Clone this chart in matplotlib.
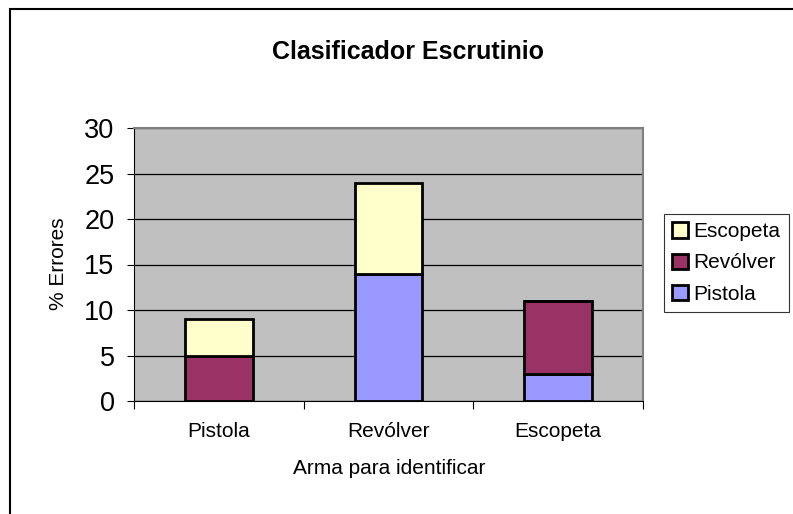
import matplotlib
matplotlib.use('Agg')
import matplotlib.pyplot as plt
import numpy as np
from matplotlib.patches import Rectangle

plt.rcParams['font.family'] = ['Liberation Sans', 'DejaVu Sans']

categories = ['Pistola', 'Revólver', 'Escopeta']
series = ['Pistola', 'Revólver', 'Escopeta']
pistola = [0, 14, 3]
revolver = [5, 0, 8]
escopeta = [4, 10, 0]
colors = ['#9999FF', '#993366', '#FFFFCC']

W, H = 793, 514
fig = plt.figure(figsize=(W / 100, H / 100), dpi=100)
# outer chart frame (cut off at right and bottom like the original)
fig.patches.append(Rectangle((10/W, -0.1), 2, 1 - 9/H + 0.1, transform=fig.transFigure,
                             fill=False, edgecolor='black', linewidth=1.5))

ax = fig.add_axes([134/W, 1 - 401/H, 509/W, 273/H])
ax.set_facecolor('#C0C0C0')

x = np.arange(len(categories))
bottom = np.zeros(len(categories))
for name, vals, c in zip(series, [pistola, revolver, escopeta], colors):
    ax.bar(x, vals, 0.40, bottom=bottom, color=c, edgecolor='black', linewidth=2,
           label=name, zorder=3)
    bottom += np.array(vals)

ax.set_xlim(-0.5, 2.5)
ax.set_ylim(0, 30)
ax.set_yticks(range(0, 31, 5))
ax.yaxis.grid(True, color='black', linewidth=0.9, zorder=1)
ax.set_axisbelow(True)

ax.set_xticks([-0.5, 0.5, 1.5, 2.5])
ax.set_xticklabels([])
ax.set_xticks(x, minor=True)
ax.set_xticklabels(categories, minor=True, fontsize=15)
ax.tick_params(axis='x', which='minor', length=0, pad=15)
ax.tick_params(axis='x', which='major', length=6, direction='out', color='black')
ax.tick_params(axis='y', length=5, direction='out', labelsize=19.5, pad=9)

for s in ['top', 'right']:
    ax.spines[s].set_color('#808080')
    ax.spines[s].set_linewidth(1.5)
ax.spines['left'].set_color('black')
ax.spines['bottom'].set_color('black')

fig.text(59/W, 1 - 264/H, '% Errores', rotation=90, ha='center', va='center', fontsize=15)
fig.text(389/W, 1 - 468/H, 'Arma para identificar', ha='center', va='center', fontsize=15)
fig.text(408/W, 1 - 52/H, 'Clasificador Escrutinio', ha='center', va='center',
         fontsize=18, fontweight='bold')

handles, labels = ax.get_legend_handles_labels()
leg = fig.legend(handles[::-1], labels[::-1], loc='upper left',
                 bbox_to_anchor=(664/W, 1 - 214/H), fontsize=15,
                 frameon=True, fancybox=False, edgecolor='black',
                 handlelength=0.75, handleheight=0.75, handletextpad=0.25,
                 borderpad=0.4, labelspacing=0.58, borderaxespad=0)
leg.get_frame().set_linewidth(0.8)

fig.savefig('out.png', dpi=100)
